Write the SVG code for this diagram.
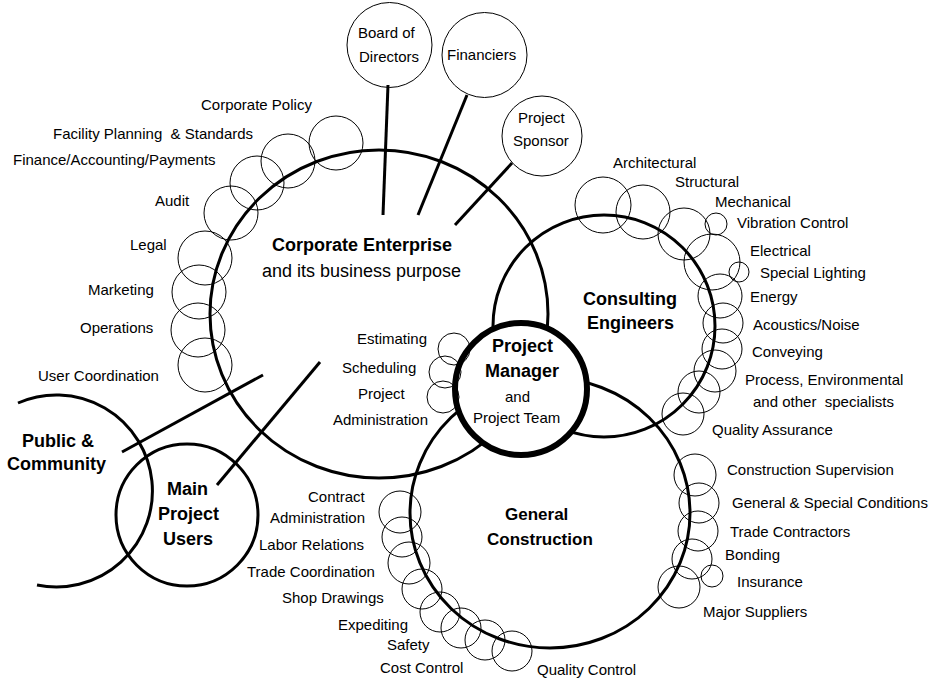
<svg xmlns="http://www.w3.org/2000/svg" width="945" height="684" viewBox="0 0 945 684">
<style>
.big{fill:none;stroke:#000;stroke-width:3}
.sm{fill:none;stroke:#000;stroke-width:1}
.ln{stroke:#000;stroke-width:3;fill:none}
text{font-family:"Liberation Sans",Arial,Helvetica,sans-serif;font-size:15px;fill:#000}
.b{font-weight:bold;font-size:18px}
</style>
<rect width="945" height="684" fill="#fff"/>
<g id="corporate-enterprise">
<ellipse class="big" cx="379" cy="314" rx="169" ry="164"/>
<text class="b" x="272" y="251">Corporate Enterprise</text>
<text x="262" y="277" style="font-size:18px">and its business purpose</text>
</g>
<g id="consulting-engineers">
<circle class="big" cx="604" cy="326" r="111"/>
<text class="b" x="583" y="305">Consulting</text>
<text class="b" x="587" y="329">Engineers</text>
</g>
<g id="general-construction">
<ellipse class="big" cx="550" cy="513" rx="140" ry="135"/>
<text class="b" x="505" y="520" style="font-size:17px">General</text>
<text class="b" x="487" y="545" style="font-size:17px">Construction</text>
</g>
<g id="public-community">
<path class="big" d="M18,403 A96,96 0 1,1 37,585"/>
<text class="b" x="22" y="447">Public &amp;</text>
<text class="b" x="7" y="470">Community</text>
</g>
<g id="main-project-users">
<circle class="big" cx="187" cy="515" r="71"/>
<text class="b" x="167" y="495">Main</text>
<text class="b" x="158" y="520">Project</text>
<text class="b" x="163" y="545">Users</text>
</g>
<g id="connectors">
<line class="ln" x1="388" y1="85" x2="383" y2="215"/>
<line class="ln" x1="467" y1="95" x2="418" y2="215"/>
<line class="ln" x1="512" y1="163" x2="455" y2="225"/>
<line class="ln" x1="122" y1="452" x2="263" y2="375"/>
<line class="ln" x1="217" y1="485" x2="320" y2="362"/>
</g>
<g id="board-of-directors">
<circle class="sm" cx="389.5" cy="45" r="42.5"/>
<text x="358" y="38">Board of</text>
<text x="359" y="62">Directors</text>
</g>
<g id="financiers">
<circle class="sm" cx="484.5" cy="55" r="42.5"/>
<text x="447" y="60">Financiers</text>
</g>
<g id="project-sponsor">
<circle class="sm" cx="542" cy="136" r="40"/>
<text x="518" y="123">Project</text>
<text x="513" y="146">Sponsor</text>
</g>
<g id="corporate-functions">
<g id="corporate-policy"><circle class="sm" cx="336" cy="143" r="27"/><text x="201" y="110">Corporate Policy</text></g>
<g id="facility-planning"><circle class="sm" cx="288" cy="161" r="27"/><text x="53" y="139" xml:space="preserve">Facility Planning  &amp; Standards</text></g>
<g id="finance"><circle class="sm" cx="257" cy="183" r="27"/><text x="13" y="165">Finance/Accounting/Payments</text></g>
<g id="audit"><circle class="sm" cx="231" cy="213" r="27"/><text x="155" y="206">Audit</text></g>
<g id="legal"><circle class="sm" cx="205" cy="258" r="27"/><text x="130" y="250">Legal</text></g>
<g id="marketing"><circle class="sm" cx="199" cy="292" r="27"/><text x="88" y="295">Marketing</text></g>
<g id="operations"><circle class="sm" cx="198" cy="330" r="27"/><text x="80" y="333">Operations</text></g>
<g id="user-coordination"><circle class="sm" cx="205" cy="365" r="27"/><text x="38" y="381">User Coordination</text></g>
</g>
<g id="consulting-specialties">
<g id="architectural"><circle class="sm" cx="603" cy="205" r="28"/><text x="613" y="168">Architectural</text></g>
<g id="structural"><circle class="sm" cx="643" cy="212" r="27"/><text x="675" y="187">Structural</text></g>
<g id="mechanical"><circle class="sm" cx="684" cy="234" r="26"/><text x="715" y="207">Mechanical</text></g>
<g id="vibration-control"><circle class="sm" cx="716" cy="224" r="11"/><text x="737" y="228">Vibration Control</text></g>
<g id="electrical"><circle class="sm" cx="712" cy="262" r="28"/><text x="750" y="256">Electrical</text></g>
<g id="special-lighting"><circle class="sm" cx="739" cy="272" r="10"/><text x="760" y="278">Special Lighting</text></g>
<g id="energy"><circle class="sm" cx="720" cy="296" r="22"/><text x="750" y="302">Energy</text></g>
<g id="acoustics"><circle class="sm" cx="723" cy="323" r="20"/><text x="753" y="330">Acoustics/Noise</text></g>
<g id="conveying"><circle class="sm" cx="722" cy="349" r="20"/><text x="752" y="357">Conveying</text></g>
<g id="process"><circle class="sm" cx="715" cy="371" r="21"/><circle class="sm" cx="699" cy="392" r="21"/><text x="745" y="385">Process, Environmental</text><text x="753" y="407" xml:space="preserve">and other  specialists</text></g>
<g id="quality-assurance"><circle class="sm" cx="683" cy="414" r="21"/><text x="712" y="435">Quality Assurance</text></g>
</g>
<g id="construction-functions">
<g id="construction-supervision"><circle class="sm" cx="695" cy="475" r="21"/><text x="727" y="475">Construction Supervision</text></g>
<g id="general-special-conditions"><circle class="sm" cx="699" cy="503" r="20"/><text x="732" y="508">General &amp; Special Conditions</text></g>
<g id="trade-contractors"><circle class="sm" cx="698" cy="531" r="20"/><text x="730" y="537">Trade Contractors</text></g>
<g id="bonding"><circle class="sm" cx="692" cy="559" r="20"/><text x="725" y="560">Bonding</text></g>
<g id="insurance"><circle class="sm" cx="712" cy="576" r="11"/><text x="737" y="587">Insurance</text></g>
<g id="major-suppliers"><circle class="sm" cx="679" cy="587" r="21"/><text x="703" y="617">Major Suppliers</text></g>
<g id="contract-administration"><circle class="sm" cx="400" cy="512" r="21"/><text x="308" y="502">Contract</text><text x="270" y="523">Administration</text></g>
<g id="labor-relations"><circle class="sm" cx="402" cy="537" r="20"/><text x="259" y="550">Labor Relations</text></g>
<g id="trade-coordination"><circle class="sm" cx="409" cy="563" r="21"/><text x="247" y="577">Trade Coordination</text></g>
<g id="shop-drawings"><circle class="sm" cx="422" cy="589" r="20"/><text x="282" y="603">Shop Drawings</text></g>
<g id="expediting"><circle class="sm" cx="440" cy="612" r="20"/><text x="338" y="630">Expediting</text></g>
<g id="safety"><circle class="sm" cx="461" cy="628" r="20"/><text x="387" y="650">Safety</text></g>
<g id="cost-control"><circle class="sm" cx="485" cy="640" r="20"/><text x="380" y="673">Cost Control</text></g>
<g id="quality-control"><circle class="sm" cx="512" cy="651" r="20"/><text x="537" y="675">Quality Control</text></g>
</g>
<g id="project-manager">
<circle cx="521" cy="389" r="66" fill="#fff" stroke="#000" stroke-width="6"/>
<text class="b" x="492" y="352">Project</text>
<text class="b" x="485" y="377">Manager</text>
<text x="505" y="402">and</text>
<text x="473" y="423">Project Team</text>
</g>
<g id="project-manager-functions">
<g id="estimating"><circle class="sm" cx="454" cy="349" r="16"/><text x="357" y="344">Estimating</text></g>
<g id="scheduling"><circle class="sm" cx="445" cy="372" r="16"/><text x="342" y="373">Scheduling</text></g>
<g id="project-administration"><circle class="sm" cx="443" cy="397" r="16"/><text x="358" y="399">Project</text><text x="333" y="425">Administration</text></g>
</g>
</svg>
